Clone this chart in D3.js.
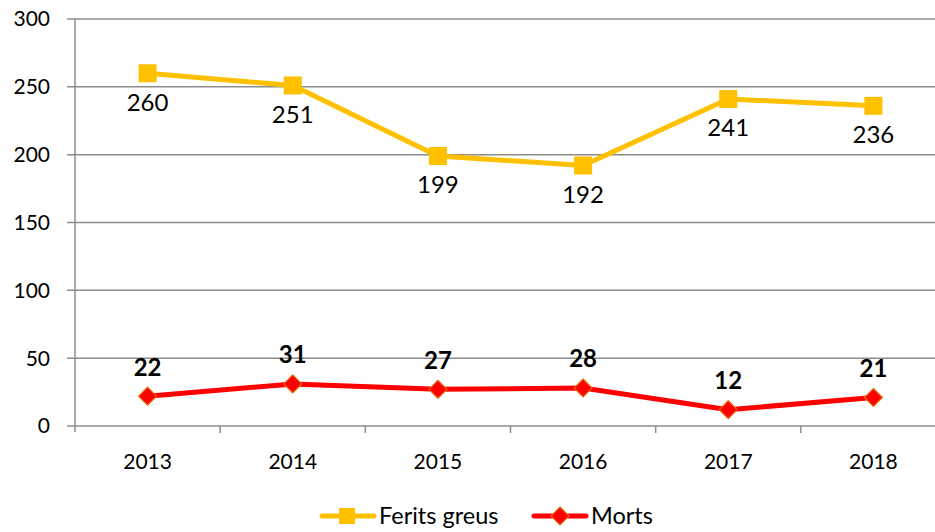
<!DOCTYPE html>
<html>
<head>
<meta charset="utf-8">
<script src="https://cdn.jsdelivr.net/npm/d3@7"></script>
<style>
  body { margin: 0; background: #fff; }
  svg { font-family: Lato, "Open Sans", sans-serif; }
</style>
</head>
<body>
<svg id="chart" width="935" height="532"></svg>
<script>
var years = ["2013", "2014", "2015", "2016", "2017", "2018"];
var ferits = [260, 251, 199, 192, 241, 236];
var morts = [22, 31, 27, 28, 12, 21];
var yTicks = [0, 50, 100, 150, 200, 250, 300];

var svg = d3.select("#chart");
var plotLeft = 75, plotRight = 946, plotTop = 19, plotBottom = 426;

var x = d3.scaleBand().domain(years).range([plotLeft, plotRight]);
var y = d3.scaleLinear().domain([0, 300]).range([plotBottom, plotTop]);

// gridlines
svg.append("g")
    .selectAll("line")
    .data(yTicks)
    .enter().append("line")
    .attr("x1", plotLeft - 8)
    .attr("x2", plotRight)
    .attr("y1", function(d) { return y(d); })
    .attr("y2", function(d) { return y(d); })
    .attr("stroke", "#8c8c8c")
    .attr("stroke-width", 1.5);

// y axis line
svg.append("line")
    .attr("x1", plotLeft).attr("x2", plotLeft)
    .attr("y1", plotTop).attr("y2", plotBottom + 6)
    .attr("stroke", "#8c8c8c")
    .attr("stroke-width", 1.5);

// category boundary ticks
svg.append("g")
    .selectAll("line")
    .data(years.slice(1))
    .enter().append("line")
    .attr("x1", function(d) { return x(d); })
    .attr("x2", function(d) { return x(d); })
    .attr("y1", plotBottom)
    .attr("y2", plotBottom + 7)
    .attr("stroke", "#8c8c8c")
    .attr("stroke-width", 1.5);

// y labels
svg.append("g")
    .selectAll("text")
    .data(yTicks)
    .enter().append("text")
    .attr("x", plotLeft - 25)
    .attr("y", function(d) { return y(d); })
    .attr("dy", "0.35em")
    .attr("text-anchor", "end")
    .style("font-size", "21px")
    .text(function(d) { return d; });

// x labels
svg.append("g")
    .selectAll("text")
    .data(years)
    .enter().append("text")
    .attr("x", function(d) { return x(d) + x.bandwidth() / 2; })
    .attr("y", 462)
    .attr("dy", "0.35em")
    .attr("text-anchor", "middle")
    .style("font-size", "21px")
    .text(function(d) { return d; });

var cx = function(d, i) { return x(years[i]) + x.bandwidth() / 2; };

var line = d3.line()
    .x(function(d, i) { return cx(d, i); })
    .y(function(d) { return y(d); });

// Ferits greus
svg.append("path")
    .datum(ferits)
    .attr("d", line)
    .attr("fill", "none")
    .attr("stroke", "#FFC000")
    .attr("stroke-width", 5)
    .attr("stroke-linejoin", "round");

svg.append("g")
    .selectAll("rect")
    .data(ferits)
    .enter().append("rect")
    .attr("x", function(d, i) { return cx(d, i) - 9; })
    .attr("y", function(d) { return y(d) - 9; })
    .attr("width", 18)
    .attr("height", 18)
    .attr("fill", "#FFC000");

svg.append("g")
    .selectAll("text")
    .data(ferits)
    .enter().append("text")
    .attr("x", function(d, i) { return cx(d, i); })
    .attr("y", function(d) { return y(d) + 29; })
    .attr("dy", "0.35em")
    .attr("text-anchor", "middle")
    .style("font-size", "24px")
    .text(function(d) { return d; });

// Morts
svg.append("path")
    .datum(morts)
    .attr("d", line)
    .attr("fill", "none")
    .attr("stroke", "#FF0000")
    .attr("stroke-width", 5)
    .attr("stroke-linejoin", "round");

var diamond = "M0,-9L9,0L0,9L-9,0Z";

svg.append("g")
    .selectAll("path")
    .data(morts)
    .enter().append("path")
    .attr("d", diamond)
    .attr("transform", function(d, i) { return "translate(" + cx(d, i) + "," + y(d) + ")"; })
    .attr("fill", "#FF0000")
    .attr("stroke", "#E46C0A")
    .attr("stroke-width", 1.2);

svg.append("g")
    .selectAll("text")
    .data(morts)
    .enter().append("text")
    .attr("x", function(d, i) { return cx(d, i); })
    .attr("y", function(d) { return y(d) - 29; })
    .attr("dy", "0.35em")
    .attr("text-anchor", "middle")
    .style("font-size", "24px")
    .style("font-weight", "bold")
    .text(function(d) { return d; });

// legend
var lg = svg.append("g").attr("transform", "translate(0,516)");
lg.append("line").attr("x1", 322).attr("x2", 374).attr("y1", 0).attr("y2", 0)
    .attr("stroke", "#FFC000").attr("stroke-width", 5).attr("stroke-linecap", "round");
lg.append("rect").attr("x", 339).attr("y", -8).attr("width", 16).attr("height", 16).attr("fill", "#FFC000");
lg.append("text").attr("x", 379).attr("y", 0).attr("dy", "0.35em")
    .style("font-size", "23.5px").text("Ferits greus");

lg.append("line").attr("x1", 534).attr("x2", 586).attr("y1", 0).attr("y2", 0)
    .attr("stroke", "#FF0000").attr("stroke-width", 5).attr("stroke-linecap", "round");
lg.append("path").attr("d", diamond).attr("transform", "translate(560,0)")
    .attr("fill", "#FF0000").attr("stroke", "#E46C0A").attr("stroke-width", 1.2);
lg.append("text").attr("x", 591).attr("y", 0).attr("dy", "0.35em")
    .style("font-size", "23.5px").text("Morts");
</script>
</body>
</html>
